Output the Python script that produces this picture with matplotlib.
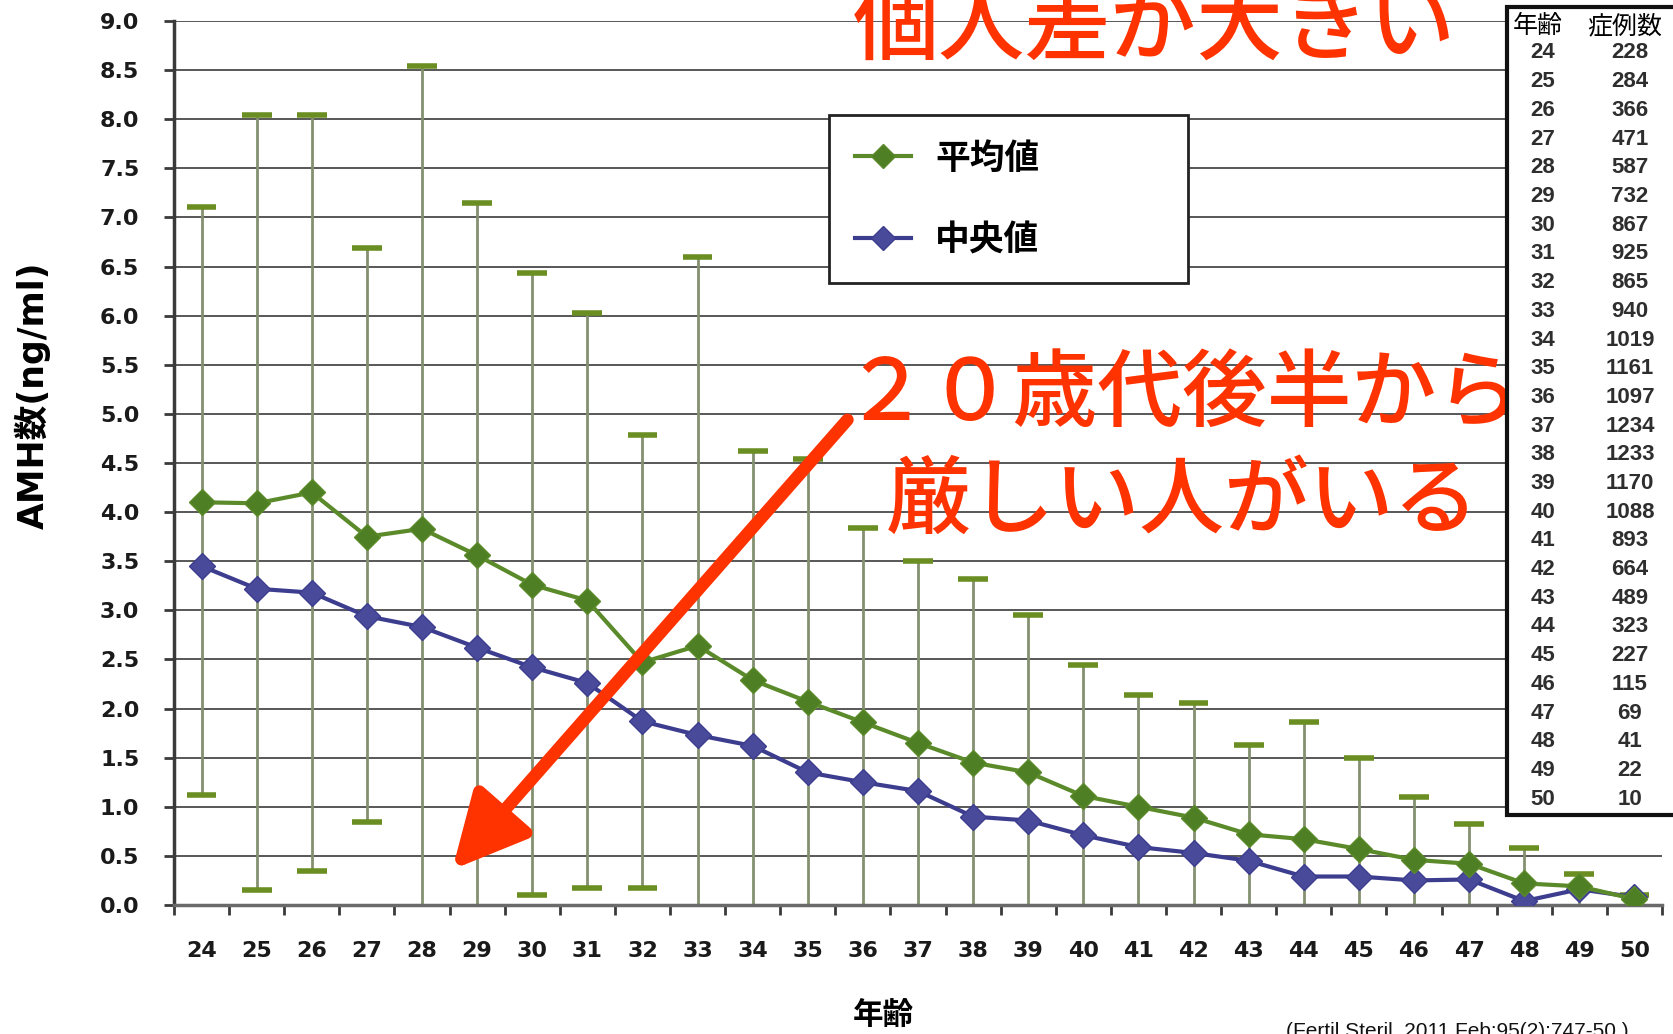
import matplotlib
matplotlib.use('Agg')
import matplotlib.pyplot as plt
from matplotlib.patches import Rectangle
from matplotlib.lines import Line2D

plt.rcParams['font.family'] = ['DejaVu Sans', 'Noto Sans CJK JP']

# data
ages = list(range(24, 51))
mean_vals = [4.10, 4.09, 4.20, 3.75, 3.83, 3.56, 3.26, 3.10, 2.47, 2.64, 2.29, 2.07, 1.86,
             1.65, 1.45, 1.35, 1.11, 1.00, 0.89, 0.72, 0.67, 0.57, 0.46, 0.42, 0.22, 0.19, 0.06]
median_vals = [3.45, 3.22, 3.18, 2.94, 2.83, 2.62, 2.42, 2.26, 1.87, 1.73, 1.62, 1.35, 1.25,
               1.16, 0.90, 0.86, 0.71, 0.59, 0.53, 0.45, 0.29, 0.29, 0.25, 0.26, 0.04, 0.16, 0.08]
upper_vals = [7.11, 8.04, 8.04, 6.69, 8.54, 7.15, 6.43, 6.03, 4.79, 6.60, 4.62, 4.54, 3.84,
              3.50, 3.32, 2.95, 2.44, 2.14, 2.06, 1.63, 1.86, 1.50, 1.10, 0.82, 0.58, 0.32, 0.10]
lower_vals = [1.12, 0.15, 0.35, 0.84, 0.0, 0.0, 0.10, 0.17, 0.17, 0.0, 0.0, 0.0, 0.0,
              0.0, 0.0, 0.0, 0.0, 0.0, 0.0, 0.0, 0.0, 0.0, 0.0, 0.0, 0.0, 0.0, 0.0]
case_counts = [228, 284, 366, 471, 587, 732, 867, 925, 865, 940, 1019, 1161, 1097, 1234,
               1233, 1170, 1088, 893, 664, 489, 323, 227, 115, 69, 41, 22, 10]
y_ticks = [i * 0.5 for i in range(19)]

GREEN = '#5b8a2a'
PURPLE = '#3d3d8f'
BAR_LINE = '#849070'
CAP = '#6a8e22'
RED = '#ff3300'

W, H = 1673, 1034
fig = plt.figure(figsize=(W / 100, H / 100), dpi=100)
fig.patch.set_facecolor('white')
ax = fig.add_axes([174 / W, 1 - 905 / H, (1662 - 174) / W, (905 - 21) / H])

ax.set_xlim(23.5, 50.5)
ax.set_ylim(0, 9.0)

for y in y_ticks[1:]:
    ax.axhline(y, color='#4a4a4a', lw=1.3, zorder=1)

# error bars
ax.vlines(ages, lower_vals, upper_vals, color=BAR_LINE, lw=2.0, zorder=2)
cap_w = 0.27
for a, u, l in zip(ages, upper_vals, lower_vals):
    ax.hlines(u, a - cap_w, a + cap_w, color=CAP, lw=4, zorder=3)
    if l > 0.05:
        ax.hlines(l, a - cap_w, a + cap_w, color=CAP, lw=4, zorder=3)

ax.plot(ages, median_vals, color=PURPLE, lw=3, marker='D', markersize=13,
        markerfacecolor='#4a4a9a', markeredgecolor=PURPLE, zorder=4, label='中央値')
ax.plot(ages, mean_vals, color=GREEN, lw=3, marker='D', markersize=13,
        markerfacecolor='#4f7f24', markeredgecolor=GREEN, zorder=5, label='平均値')

for s in ['top', 'right']:
    ax.spines[s].set_visible(False)
ax.spines['left'].set_color('#3a3a3a')
ax.spines['left'].set_linewidth(2.5)
ax.spines['bottom'].set_color('#6a6a6a')
ax.spines['bottom'].set_linewidth(2.5)

ax.set_yticks(y_ticks)
ax.set_yticklabels(['%.1f' % v for v in y_ticks], fontsize=16, fontweight='bold', color='#1a1a1a')
ax.tick_params(axis='y', direction='out', length=7, width=2, color='#3a3a3a', pad=18)

ax.set_xticks([a + 0.5 for a in [23] + ages])
ax.set_xticklabels([])
ax.tick_params(axis='x', which='major', direction='out', length=7, width=2, color='#3a3a3a')
ax.set_xticks(ages, minor=True)
ax.set_xticklabels([str(a) for a in ages], minor=True, fontsize=16, fontweight='bold', color='#1a1a1a')
ax.tick_params(axis='x', which='minor', length=0, pad=26)

fig.text(33 / W, 1 - 395 / H, 'AMH数(ng/ml)', rotation=90, ha='center', va='center',
         fontsize=25, fontweight='bold', family=['DejaVu Sans', 'Noto Sans CJK JP'])
fig.text(883 / W, 1 - 1015 / H, '年齢', ha='center', va='center', fontsize=22,
         fontweight='bold', family=['Noto Sans CJK JP'])
fig.text(1286 / W, 1 - 1022 / H, '(Fertil Steril. 2011 Feb;95(2):747-50.)', ha='left', va='top',
         fontsize=15, family=['Liberation Sans'], color='#111111')

# legend
handles = [Line2D([], [], color=GREEN, lw=3, marker='D', markersize=12, markerfacecolor='#4f7f24'),
           Line2D([], [], color=PURPLE, lw=3, marker='D', markersize=12, markerfacecolor='#4a4a9a')]
leg = ax.legend(handles, ['平均値', '中央値'], loc='center',
                bbox_to_anchor=(829 / W, 1 - 283 / H, (1188 - 829) / W, (283 - 115) / H),
                bbox_transform=fig.transFigure, mode='expand', borderaxespad=0,
                prop={'family': ['Noto Sans CJK JP'], 'weight': 'bold', 'size': 25},
                handlelength=1.6, handletextpad=0.7, labelspacing=1.35, borderpad=0.75,
                fancybox=False, framealpha=1, edgecolor='#222222')
leg.get_frame().set_linewidth(2)
leg.set_zorder(6)

# red annotations
fig.text(853 / W, 1 - 53 / H, '個人差が大きい', ha='left', va='baseline', fontsize=62,
         fontweight='medium', color=RED, family=['Noto Sans CJK JP'], zorder=7)
fig.text(1182 / W, 1 - 420 / H, '２０歳代後半から', ha='center', va='baseline', fontsize=61,
         fontweight='medium', color=RED, family=['Noto Sans CJK JP'], zorder=7)
fig.text(1182 / W, 1 - 527 / H, '厳しい人がいる', ha='center', va='baseline', fontsize=61,
         fontweight='medium', color=RED, family=['Noto Sans CJK JP'], zorder=7)
ax.annotate('', xy=(28.55, 0.36), xytext=(35.72, 4.94),
            arrowprops=dict(arrowstyle='-|>,head_length=0.9,head_width=0.45', lw=9,
                            color=RED, mutation_scale=50, shrinkA=0, shrinkB=0), zorder=7)

# case count table
tx0, ty0 = 1507, 7
fig.patches.append(Rectangle((tx0 / W, 1 - 815 / H), (W + 10 - tx0) / W, (815 - ty0) / H,
                             transform=fig.transFigure, facecolor='white', edgecolor='#111111',
                             lw=3, zorder=8))
fig.text(1538 / W, 1 - 26 / H, '年齢', ha='center', va='center', fontsize=18,
         family=['Noto Sans CJK JP'], color='black', zorder=9)
fig.text(1625 / W, 1 - 26 / H, '症例数', ha='center', va='center', fontsize=18,
         family=['Noto Sans CJK JP'], color='black', zorder=9)
for i, (a, c) in enumerate(zip(ages, case_counts)):
    yy = 1 - (53 + i * 28.7) / H
    fig.text(1543 / W, yy, str(a), ha='center', va='center', fontsize=16, fontweight='bold',
             family=['Liberation Sans'], color='#2e2e2e', zorder=9)
    fig.text(1630 / W, yy, str(c), ha='center', va='center', fontsize=16, fontweight='bold',
             family=['Liberation Sans'], color='#2e2e2e', zorder=9)

fig.savefig('out.png', dpi=100, facecolor='white')
